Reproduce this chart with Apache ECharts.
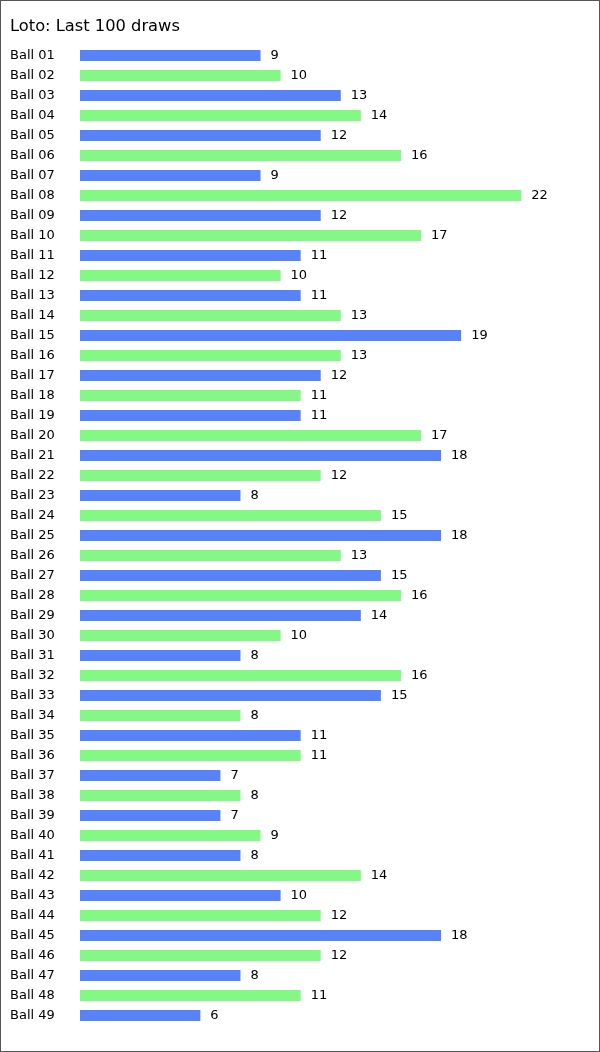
<!DOCTYPE html>
<html><head><meta charset="utf-8">
<script src="https://cdn.jsdelivr.net/npm/echarts@6/dist/echarts.min.js"></script>
<style>
html,body{margin:0;padding:0;background:#fff;}
#frame{width:600px;height:1052px;box-sizing:border-box;border:1px solid #555;position:relative;}
#chart{position:absolute;left:-1px;top:-1px;width:600px;height:1052px;}
</style></head>
<body><div id="frame"><div id="chart"></div></div>
<script>
const titleText = "Loto: Last 100 draws";
const categories = ["Ball 01","Ball 02","Ball 03","Ball 04","Ball 05","Ball 06","Ball 07","Ball 08","Ball 09","Ball 10",
"Ball 11","Ball 12","Ball 13","Ball 14","Ball 15","Ball 16","Ball 17","Ball 18","Ball 19","Ball 20",
"Ball 21","Ball 22","Ball 23","Ball 24","Ball 25","Ball 26","Ball 27","Ball 28","Ball 29","Ball 30",
"Ball 31","Ball 32","Ball 33","Ball 34","Ball 35","Ball 36","Ball 37","Ball 38","Ball 39","Ball 40",
"Ball 41","Ball 42","Ball 43","Ball 44","Ball 45","Ball 46","Ball 47","Ball 48","Ball 49"];
const counts = [9,10,13,14,12,16,9,22,12,17,11,10,11,13,19,13,12,11,11,17,18,12,8,15,18,13,15,16,14,10,8,16,15,8,11,11,7,8,7,9,8,14,10,12,18,12,8,11,6];
const colors = ["#5882f8","#84f884"];

const chart = echarts.init(document.getElementById('chart'));
chart.setOption({
  animation:false,
  title:{text:titleText,left:5,top:13.5,textStyle:{fontFamily:'DejaVu Sans',fontSize:16.3,fontWeight:'normal',color:'#000'}},
  grid:{left:80,top:45.5,width:501.5,height:980},
  xAxis:{type:'value',min:0,max:25,show:false},
  yAxis:{type:'category',data:categories,inverse:true,
    axisLine:{show:false},axisTick:{show:false},splitLine:{show:false},
    axisLabel:{align:'left',margin:70,fontFamily:'DejaVu Sans',fontSize:13,color:'#000'}},
  series:[{type:'bar',barWidth:11,
    data:counts.map((v,i)=>({value:v,itemStyle:{color:colors[i%2]}})),
    label:{show:true,position:'right',distance:10,fontFamily:'DejaVu Sans',fontSize:13,color:'#000'}}]
});
</script></body></html>
